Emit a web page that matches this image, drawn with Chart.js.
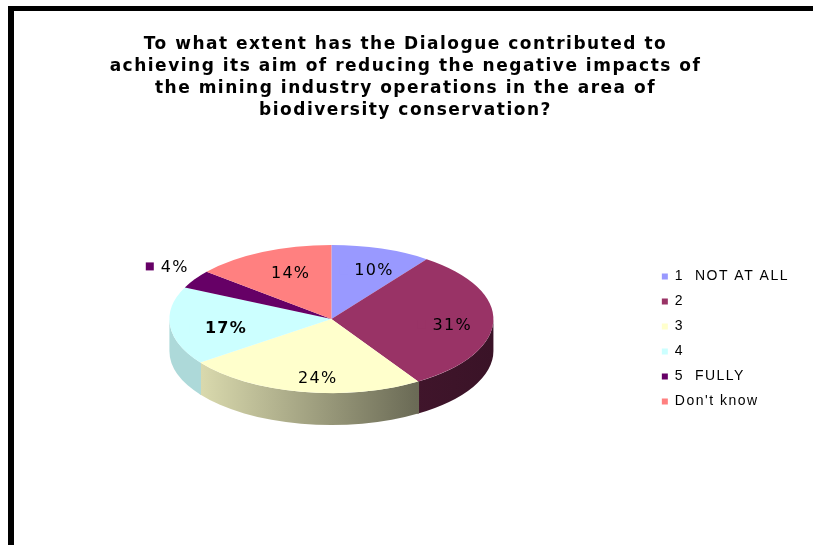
<!DOCTYPE html>
<html>
<head>
<meta charset="utf-8">
<script src="https://cdn.jsdelivr.net/npm/chart.js@4/dist/chart.umd.min.js"></script>
<style>
  html, body { margin: 0; padding: 0; background: #fff; }
  canvas { display: block; }
</style>
</head>
<body>
<canvas id="chart" width="813" height="545"></canvas>
<script>
const titleLines = [
  'To what extent has the Dialogue contributed to',
  'achieving its aim of reducing the negative impacts of',
  'the mining industry operations in the area of',
  'biodiversity conservation?'
];
const categories = ['1  NOT AT ALL', '2', '3', '4', '5  FULLY', "Don't know"];
const shares = [10, 31, 24, 17, 4, 14];
const sliceColors = ['#9999FF', '#993366', '#FFFFCC', '#CCFFFF', '#660066', '#FF8080'];

// 3D look: vertical squash of the pie face and thickness of its rim
const TILT = 0.457;
const DEPTH = 32;
const PIE_RADIUS = 162;
const WIDE_SPACING = '1.5px';

function shade(hex, f) {
  const n = parseInt(hex.slice(1), 16);
  const r = Math.round(((n >> 16) & 255) * f);
  const g = Math.round(((n >> 8) & 255) * f);
  const b = Math.round((n & 255) * f);
  return `rgb(${r},${g},${b})`;
}

const pie3d = {
  id: 'pie3d',
  beforeLayout(chart) {
    // legend text is measured with the same wide spacing it is drawn with
    chart.ctx.letterSpacing = WIDE_SPACING;
  },
  beforeDraw(chart) {
    const { ctx, width, height } = chart;
    ctx.save();
    ctx.fillStyle = '#fff';
    ctx.fillRect(0, 0, width, height);
    // heavy frame along the top and left edge
    ctx.fillStyle = '#000';
    ctx.fillRect(8, 6, width - 8, 5);
    ctx.fillRect(8, 6, 6, height - 6);
    ctx.restore();
    ctx.letterSpacing = WIDE_SPACING;
  },
  beforeDatasetsDraw(chart) {
    const ctx = chart.ctx;
    ctx.letterSpacing = '0px';
    const arcs = chart.getDatasetMeta(0).data;
    const { x: cx, y: cy, outerRadius: R } = arcs[0];
    const ry = R * TILT;
    // rim of the pie: only the front half (angles 0..PI) is visible;
    // each piece overlaps its neighbour a hair so no seam shows
    ctx.save();
    arcs.forEach((arc, i) => {
      const s = Math.max(arc.startAngle - 0.006, 0);
      const e = Math.min(arc.endAngle + 0.006, Math.PI);
      if (e <= s) return;
      const g = ctx.createLinearGradient(cx - R, 0, cx + R, 0);
      [[0, 0.85], [0.1, 0.85], [0.76, 0.42], [1, 0.38]]
        .forEach(([p, f]) => g.addColorStop(p, shade(sliceColors[i], f)));
      ctx.beginPath();
      ctx.ellipse(cx, cy, R, ry, 0, s, e);
      ctx.ellipse(cx, cy + DEPTH, R, ry, 0, e, s, true);
      ctx.closePath();
      ctx.fillStyle = g;
      ctx.fill();
    });
    ctx.restore();
    // squash the top face into an ellipse
    ctx.save();
    ctx.translate(cx, cy);
    ctx.scale(1, TILT);
    ctx.translate(-cx, -cy);
  },
  afterDatasetsDraw(chart) {
    const ctx = chart.ctx;
    ctx.restore();
    const arcs = chart.getDatasetMeta(0).data;
    const { x: cx, y: cy, outerRadius: R } = arcs[0];
    const ry = R * TILT;
    ctx.save();
    ctx.textBaseline = 'middle';
    ctx.textAlign = 'left';
    ctx.letterSpacing = '1.3px';
    arcs.forEach((arc, i) => {
      const mid = (arc.startAngle + arc.endAngle) / 2;
      const inside = shares[i] >= 5;
      let px, py;
      if (inside) {
        px = cx + R * 0.7 * Math.cos(mid);
        py = cy + ry * 0.75 * Math.sin(mid) + 5;
      } else {
        px = cx + R * 1.2 * Math.cos(mid);
        py = cy + ry * 1.2 * Math.sin(mid) - 4;
      }
      const text = shares[i] + '%';
      ctx.font = (categories[i] === '4' ? 'bold ' : '') + '16px "DejaVu Sans", Verdana, sans-serif';
      const tw = ctx.measureText(text).width;
      const key = 8, gap = 7;
      const left = px - (key + gap + tw) / 2;
      ctx.fillStyle = sliceColors[i];
      ctx.fillRect(left, py - key / 2 - 1, key, key);
      ctx.fillStyle = '#000';
      ctx.fillText(text, left + key + gap, py);
    });
    ctx.restore();
  }
};

new Chart(document.getElementById('chart'), {
  type: 'pie',
  data: {
    labels: categories,
    datasets: [{
      data: shares,
      backgroundColor: sliceColors,
      borderWidth: 0,
      clip: false
    }]
  },
  options: {
    responsive: false,
    animation: false,
    radius: PIE_RADIUS,
    layout: { padding: { top: 24, left: 12, right: 14, bottom: 28 } },
    plugins: {
      title: {
        display: true,
        text: titleLines,
        color: '#000',
        font: { family: '"DejaVu Sans", Verdana, sans-serif', size: 17, weight: 'bold', lineHeight: 1.28 },
        padding: { top: 10, bottom: 0 }
      },
      legend: {
        position: 'right',
        align: 'center',
        fullSize: false,
        title: { display: true, text: ' ', font: { size: 20, lineHeight: 1 }, padding: 10 },
        labels: {
          boxWidth: 6,
          boxHeight: 6,
          padding: 11,
          color: '#000',
          font: { family: '"Liberation Sans", Arial, sans-serif', size: 14 }
        }
      },
      tooltip: { enabled: false }
    }
  },
  plugins: [pie3d]
});
</script>
</body>
</html>
